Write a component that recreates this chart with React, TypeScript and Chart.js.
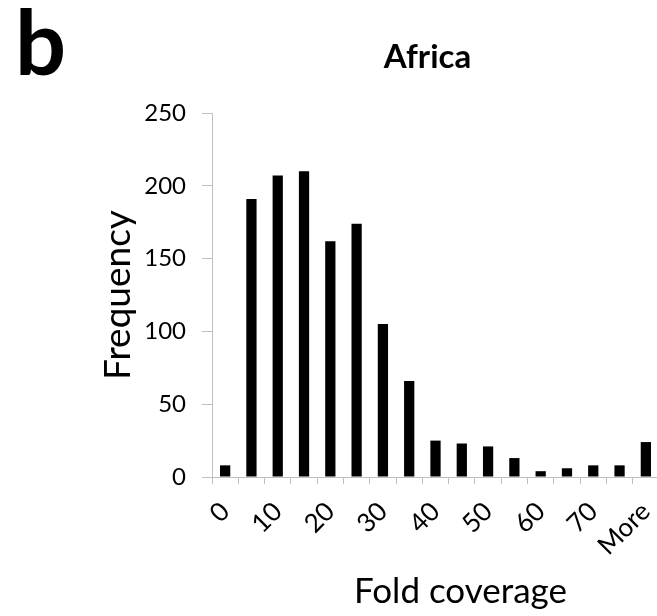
import React, { useEffect, useRef } from "react";
import { Chart, registerables } from "chart.js";

Chart.register(...registerables);

const categories = ["0", "5", "10", "15", "20", "25", "30", "35", "40", "45", "50", "55", "60", "65", "70", "75", "More"];
const xTickLabels = ["0", "", "10", "", "20", "", "30", "", "40", "", "50", "", "60", "", "70", "", "More"];
const frequency = [8, 191, 207, 210, 162, 174, 105, 66, 25, 23, 21, 13, 4, 6, 8, 8, 24];
const yTicks = [0, 50, 100, 150, 200, 250];

const FONT = "Lato, 'Open Sans', sans-serif";

const textPlugin = {
  id: "panelText",
  afterDraw(chart: any) {
    const { ctx, chartArea } = chart;
    const cx = (chartArea.left + chartArea.right) / 2;
    ctx.save();
    ctx.fillStyle = "#000";
    ctx.textBaseline = "alphabetic";
    ctx.textAlign = "left";
    ctx.font = `bold 90px ${FONT}`;
    ctx.fillText("b", 15, 75);
    ctx.textAlign = "center";
    ctx.font = `bold 33px ${FONT}`;
    ctx.fillText("Africa", cx - 8, 68);
    ctx.font = `35px ${FONT}`;
    ctx.fillText("Fold coverage", cx + 25, 603);
    ctx.restore();
  },
};

export default function App() {
  const ref = useRef<HTMLCanvasElement | null>(null);
  useEffect(() => {
    if (!ref.current) return;
    const chart = new Chart(ref.current, {
      type: "bar",
      data: {
        labels: categories,
        datasets: [
          {
            label: "Frequency",
            data: frequency,
            backgroundColor: "#000",
            borderWidth: 0,
            barPercentage: 0.39,
            categoryPercentage: 1,
          },
        ],
      },
      options: {
        responsive: false,
        animation: false,
        layout: { padding: { left: 90, top: 113, right: 3, bottom: 0 } },
        plugins: {
          legend: { display: false },
          tooltip: { enabled: false },
          title: { display: false },
        },
        scales: {
          x: {
            afterFit: (axis: any) => {
              axis.height = 139;
              axis.paddingRight = 0;
              axis.paddingLeft = 0;
            },
            grid: {
              offset: true,
              drawOnChartArea: false,
              drawTicks: true,
              tickLength: 7,
              color: "#bfbfbf",
            },
            border: { display: true, color: "#bfbfbf", width: 1 },
            ticks: {
              autoSkip: false,
              maxRotation: 45,
              minRotation: 45,
              padding: 12,
              color: "#000",
              font: { family: FONT, size: 26 },
              callback: (_v: any, i: number) => xTickLabels[i],
            },
            title: { display: false },
          },
          y: {
            min: 0,
            max: 250,
            afterFit: (axis: any) => {
              axis.width = 122;
            },
            afterBuildTicks: (axis: any) => {
              axis.ticks = yTicks.map((v) => ({ value: v }));
            },
            grid: {
              drawOnChartArea: false,
              drawTicks: true,
              tickLength: 10,
              color: "#bfbfbf",
            },
            border: { display: true, color: "#bfbfbf", width: 1 },
            ticks: {
              padding: 16,
              color: "#000",
              font: { family: FONT, size: 24 },
            },
            title: {
              display: true,
              text: "Frequency",
              color: "#000",
              font: { family: FONT, size: 37 },
              padding: { top: 6, bottom: 4 },
            },
          },
        },
      },
      plugins: [textPlugin],
    });
    return () => chart.destroy();
  }, []);
  return (
    <div style={{ position: "absolute", left: 0, top: 0, width: 657, height: 616, overflow: "hidden", background: "#fff" }}>
      <canvas ref={ref} width={662} height={616} style={{ display: "block" }} />
    </div>
  );
}
